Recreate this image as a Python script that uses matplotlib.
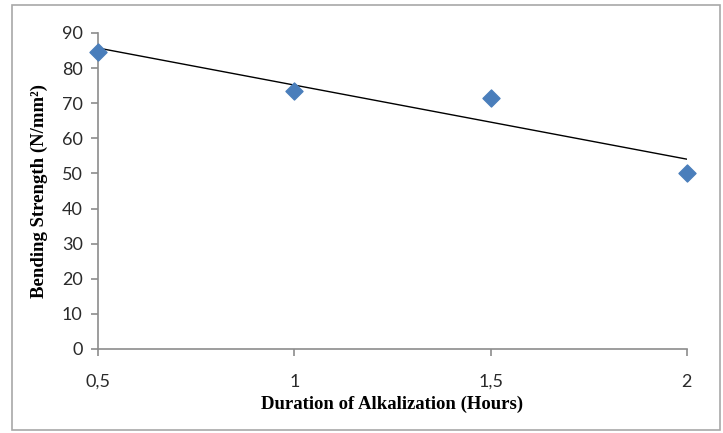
import numpy as np
import matplotlib
matplotlib.use("Agg")
import matplotlib.pyplot as plt
from matplotlib.patches import Rectangle
from matplotlib.ticker import FuncFormatter

# duration of alkalization (hours) vs bending strength
hours = [0.5, 1.0, 1.5, 2.0]
strength = [84.5, 73.5, 71.5, 50.0]

fig = plt.figure(figsize=(7.23, 4.33), dpi=100)
ax = fig.add_axes([0.1355, 0.194, 0.8145, 0.730])

# outer chart frame
fig.patches.append(Rectangle((12 / 723, 3 / 433), 708 / 723, 425 / 433,
                             transform=fig.transFigure, fill=False,
                             edgecolor='#a8a8a8', linewidth=1.2))

# linear trend line
k, b = np.polyfit(hours, strength, 1)
xs = np.array([hours[0], hours[-1]])
ax.plot(xs, k * xs + b, color='black', linewidth=1.0, zorder=2)

ax.scatter(hours, strength, marker='D', s=75, color='#4a7ebb', zorder=3,
           clip_on=False)

ax.set_xlim(0.5, 2.0)
ax.set_ylim(0, 90)
ax.set_xticks([0.5, 1.0, 1.5, 2.0])
ax.set_yticks(range(0, 91, 10))
ax.xaxis.set_major_formatter(FuncFormatter(lambda v, p: ('%g' % v).replace('.', ',')))

for s in ['top', 'right']:
    ax.spines[s].set_visible(False)
for s in ['left', 'bottom']:
    ax.spines[s].set_color('#8c8c8c')
    ax.spines[s].set_linewidth(1.2)

ax.tick_params(direction='out', length=5, width=1.2, color='#8c8c8c',
               labelsize=13, labelcolor='#2a2a2a')
ax.tick_params(axis='x', pad=13)
ax.tick_params(axis='y', pad=6)
for lbl in ax.get_xticklabels() + ax.get_yticklabels():
    lbl.set_family('Lato')

ax.set_xlabel('Duration of Alkalization (Hours)', family='Liberation Serif',
              fontweight='bold', fontsize=13.5, labelpad=4)
ax.set_ylabel('Bending Strength (N/mm²)', family='Liberation Serif',
              fontweight='bold', fontsize=13.5, labelpad=10)

fig.savefig('out.png', dpi=100)
